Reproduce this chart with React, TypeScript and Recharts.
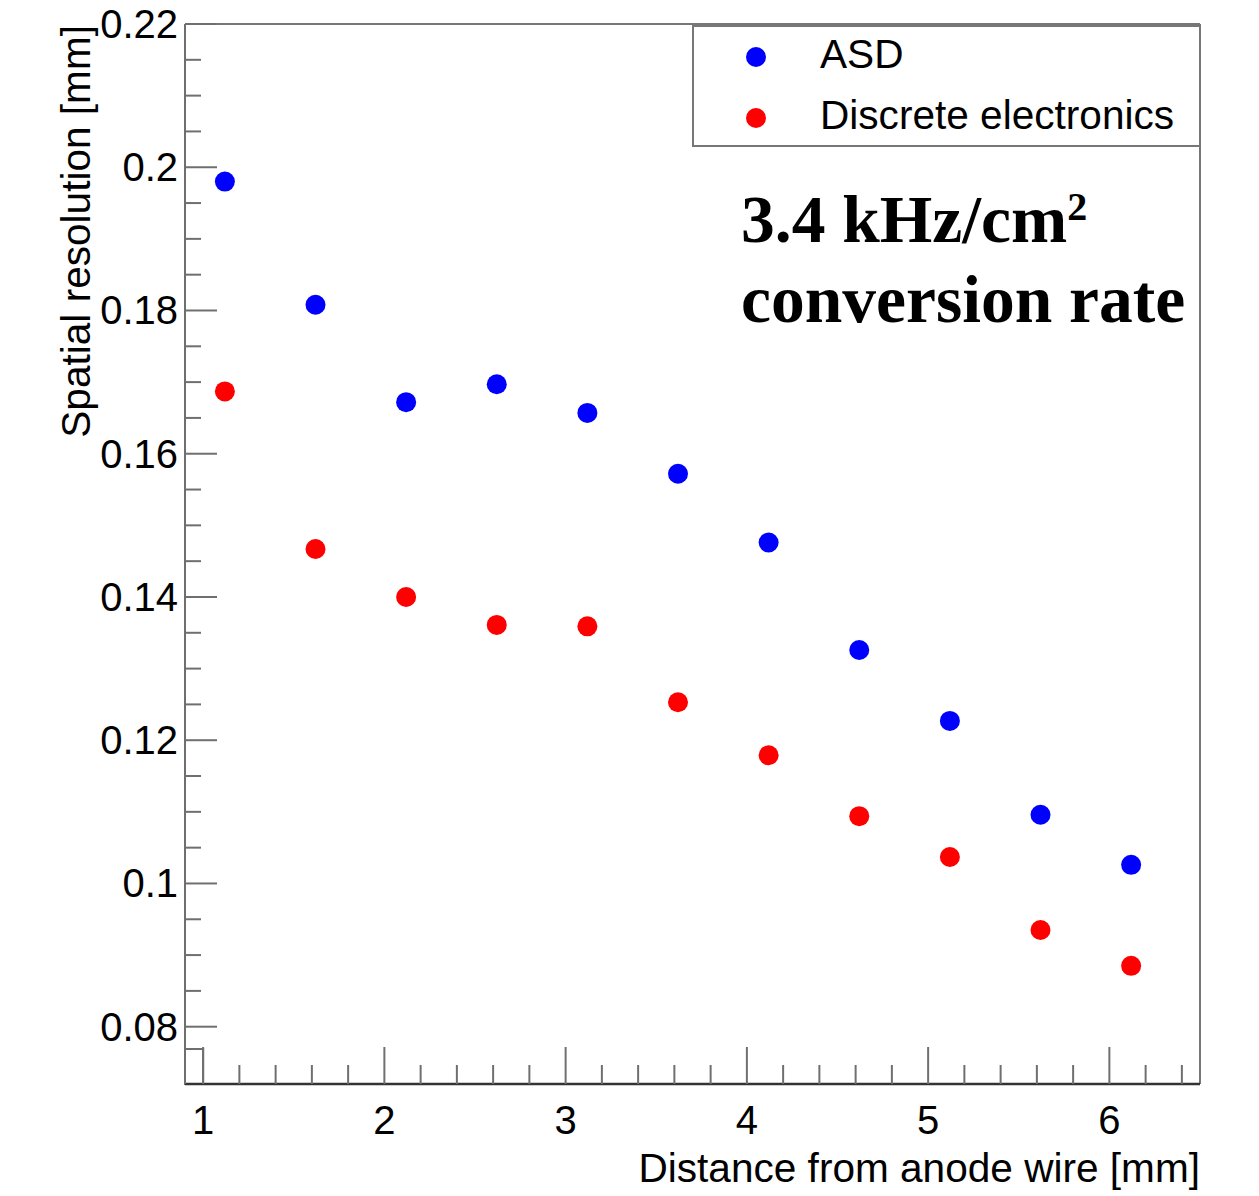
import React from 'react';
import {
  ScatterChart,
  Scatter,
  XAxis,
  YAxis,
  ReferenceLine,
  ReferenceArea,
  Legend,
  Customized
} from 'recharts';

// distance from anode wire [mm]
const distances = [1.12, 1.62, 2.12, 2.62, 3.12, 3.62, 4.12, 4.62, 5.12, 5.62, 6.12];
// spatial resolution [mm]
const asdValues = [0.198, 0.1808, 0.1672, 0.1697, 0.1657, 0.1572, 0.1476, 0.1326, 0.1227, 0.1096, 0.1026];
const discreteValues = [0.1687, 0.1467, 0.14, 0.1361, 0.1359, 0.1253, 0.1179, 0.1094, 0.1037, 0.0935, 0.0885];

const xMajorTicks = [1, 2, 3, 4, 5, 6];
const xMinorTicks = [1.2, 1.4, 1.6, 1.8, 2.2, 2.4, 2.6, 2.8, 3.2, 3.4, 3.6, 3.8, 4.2, 4.4, 4.6, 4.8, 5.2, 5.4, 5.6, 5.8, 6.2, 6.4];
const yMajorTicks = [0.08, 0.1, 0.12, 0.14, 0.16, 0.18, 0.2, 0.22];
const yMinorTicks = [
  0.085, 0.09, 0.095, 0.105, 0.11, 0.115, 0.125, 0.13, 0.135, 0.145, 0.15, 0.155,
  0.165, 0.17, 0.175, 0.185, 0.19, 0.195, 0.205, 0.21, 0.215
];

const asdData = distances.map((x, i) => ({ x, y: asdValues[i] }));
const discreteData = distances.map((x, i) => ({ x, y: discreteValues[i] }));

const SANS = '"Liberation Sans", Arial, Helvetica, sans-serif';
const SERIF = '"Liberation Serif", "Times New Roman", serif';
const TICK_COLOR = '#6f6f6f';

const YTick = (props: any) => {
  const { x, y, payload } = props;
  const major = yMajorTicks.includes(payload.value);
  return (
    <g>
      <line x1={x} y1={y} x2={x + (major ? 32 : 16)} y2={y} stroke={TICK_COLOR} strokeWidth={2} />
      {major && (
        <text x={x - 7} y={y + 14} textAnchor="end" fontFamily={SANS} fontSize={40} fill="#000">
          {String(payload.value)}
        </text>
      )}
    </g>
  );
};

const XTick = (props: any) => {
  const { x, y, payload } = props;
  const major = xMajorTicks.includes(payload.value);
  return (
    <g>
      <line x1={x} y1={y} x2={x} y2={y - (major ? 37 : 19)} stroke={TICK_COLOR} strokeWidth={2} />
      {major && (
        <text x={x} y={y + 50} textAnchor="middle" fontFamily={SANS} fontSize={40} fill="#000">
          {String(payload.value)}
        </text>
      )}
    </g>
  );
};

const Dot = (color: string) => (props: any) => (
  <circle cx={props.cx} cy={props.cy} r={10} fill={color} />
);

const LegendBox = () => (
  <div
    style={{
      position: 'relative',
      width: 507,
      height: 122,
      border: '2px solid #777',
      borderRight: 'none',
      boxSizing: 'border-box',
      background: '#fff',
      fontFamily: SANS,
      fontSize: 40.6,
      color: '#000',
      textAlign: 'left'
    }}
  >
    {[
      { name: 'ASD', color: '#0000ff', top: 30 },
      { name: 'Discrete electronics', color: '#ff0000', top: 91 }
    ].map(item => (
      <div key={item.name}>
        <span
          style={{
            position: 'absolute',
            left: 52,
            top: item.top - 10,
            width: 20,
            height: 20,
            borderRadius: 10,
            background: item.color
          }}
        />
        <span style={{ position: 'absolute', left: 126, top: item.top - 26, lineHeight: '46px', whiteSpace: 'nowrap' }}>
          {item.name}
        </span>
      </div>
    ))}
  </div>
);

const Annotations = () => (
  <g>
    <text
      x={90}
      y={25}
      transform="rotate(-90 90 25)"
      textAnchor="end"
      fontFamily={SANS}
      fontSize={40.6}
      fill="#000"
    >
      Spatial resolution [mm]
    </text>
    <text x={1200} y={1182} textAnchor="end" fontFamily={SANS} fontSize={40.6} fill="#000">
      Distance from anode wire [mm]
    </text>
    <text x={741} y={242} fontFamily={SERIF} fontWeight="bold" fontSize={67.5} fill="#000">
      3.4 kHz/cm
      <tspan fontSize={40} dy={-22}>2</tspan>
    </text>
    <text x={741} y={322} fontFamily={SERIF} fontWeight="bold" fontSize={67.5} fill="#000">
      conversion rate
    </text>
  </g>
);

const App: React.FC = () => {
  return (
    <div style={{ position: 'absolute', left: 0, top: 0, width: 1259, height: 1196, background: '#fff' }}>
      <ScatterChart width={1259} height={1196} margin={{ top: 24, right: 59, left: 0, bottom: 0 }}>
        <XAxis
          type="number"
          dataKey="x"
          domain={[0.9, 6.5]}
          allowDataOverflow
          ticks={[...xMajorTicks, ...xMinorTicks]}
          interval={0}
          tickSize={0}
          tickMargin={0}
          tickLine={false}
          tick={<XTick />}
          height={112}
          axisLine={{ stroke: '#333', strokeWidth: 2.5 }}
        />
        <YAxis
          type="number"
          dataKey="y"
          domain={[0.072, 0.22]}
          allowDataOverflow
          ticks={[...yMajorTicks, ...yMinorTicks]}
          interval={0}
          tickSize={0}
          tickMargin={0}
          tickLine={false}
          tick={<YTick />}
          width={185}
          axisLine={{ stroke: '#6f6f6f', strokeWidth: 2 }}
        />
        <ReferenceLine y={0.22} stroke="#777" strokeWidth={2} />
        <ReferenceLine x={6.5} stroke="#777" strokeWidth={2} />
        <ReferenceArea x1={0.9} x2={1} y1={0.072} y2={0.0769} fill="none" stroke={TICK_COLOR} strokeWidth={2} />
        <Scatter name="ASD" data={asdData} shape={Dot('#0000ff')} isAnimationActive={false} />
        <Scatter name="Discrete electronics" data={discreteData} shape={Dot('#ff0000')} isAnimationActive={false} />
        <Legend
          layout="horizontal"
          verticalAlign="middle"
          align="center"
          content={<LegendBox />}
          wrapperStyle={{ position: 'absolute', left: 692, top: 25, width: 507, height: 122 }}
        />
        <Customized component={Annotations} />
      </ScatterChart>
    </div>
  );
};

export default App;
